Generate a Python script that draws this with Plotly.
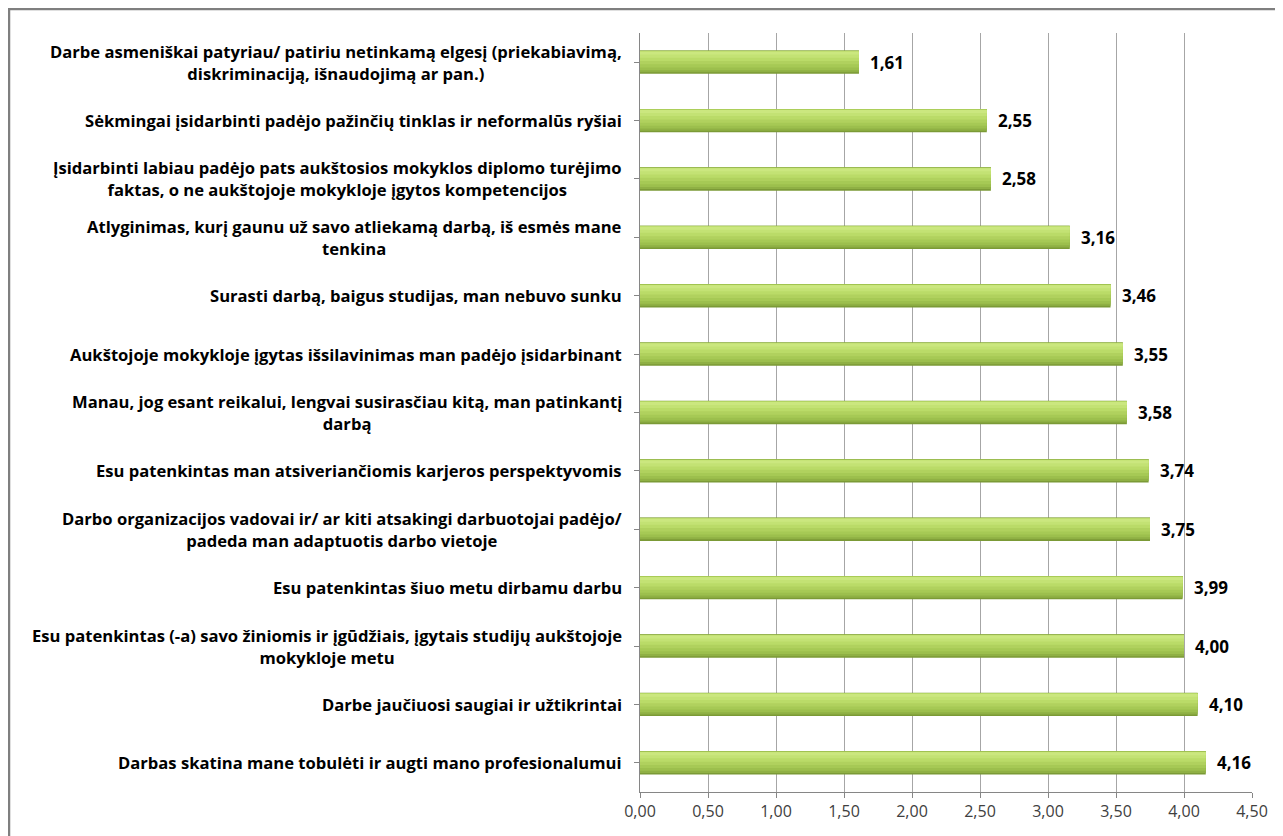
import plotly.graph_objects as go

categories = [
    "Darbe asmeniškai patyriau/ patiriu netinkamą elgesį (priekabiavimą,<br>diskriminaciją, išnaudojimą ar pan.)",
    "Sėkmingai įsidarbinti padėjo pažinčių tinklas ir neformalūs ryšiai",
    "Įsidarbinti labiau padėjo pats aukštosios mokyklos diplomo turėjimo<br>faktas, o ne aukštojoje mokykloje įgytos kompetencijos",
    "Atlyginimas, kurį gaunu už savo atliekamą darbą, iš esmės mane<br>tenkina",
    "Surasti darbą, baigus studijas, man nebuvo sunku",
    "Aukštojoje mokykloje įgytas išsilavinimas man padėjo įsidarbinant",
    "Manau, jog esant reikalui, lengvai susirasčiau kitą, man patinkantį<br>darbą",
    "Esu patenkintas man atsiveriančiomis karjeros perspektyvomis",
    "Darbo organizacijos vadovai ir/ ar kiti atsakingi darbuotojai padėjo/<br>padeda man adaptuotis darbo vietoje",
    "Esu patenkintas šiuo metu dirbamu darbu",
    "Esu patenkintas (-a) savo žiniomis ir įgūdžiais, įgytais studijų aukštojoje<br>mokykloje metu",
    "Darbe jaučiuosi saugiai ir užtikrintai",
    "Darbas skatina mane tobulėti ir augti mano profesionalumui",
]
values = [1.61, 2.55, 2.58, 3.16, 3.46, 3.55, 3.58, 3.74, 3.75, 3.99, 4.00, 4.10, 4.16]
x_ticks = [0, 0.5, 1.0, 1.5, 2.0, 2.5, 3.0, 3.5, 4.0, 4.5]

ids = list(range(len(categories)))
LABEL_FONT = "Open Sans, sans-serif"

fig = go.Figure()
# layered bars to imitate the cylindrical gradient
layers = [
    (-0.200, 0.400, "#7b9a36"),
    (-0.197, 0.370, "#8fb044"),
    (-0.194, 0.330, "#9cbf4d"),
    (-0.191, 0.280, "#a6c955"),
    (-0.188, 0.225, "#b0d15e"),
    (-0.185, 0.165, "#badb68"),
    (-0.182, 0.105, "#c3e274"),
    (-0.180, 0.050, "#cbe77f"),
]
for off, w, col in layers:
    fig.add_trace(go.Bar(
        y=ids, x=values, orientation="h",
        offset=off, width=w,
        marker=dict(color=col, line=dict(width=0)),
        hoverinfo="skip", showlegend=False,
    ))

annotations = []
for i, (cat, v) in enumerate(zip(categories, values)):
    annotations.append(dict(
        x=0, xref="paper", y=i, yref="y", text="<b>" + cat + "</b>",
        xanchor="right", yanchor="middle", align="center", xshift=-16,
        showarrow=False, font=dict(family=LABEL_FONT, size=16.6, color="#000000"),
    ))
    annotations.append(dict(
        x=v, xref="x", y=i, yref="y", text="<b>" + f"{v:.2f}".replace(".", ",") + "</b>",
        xanchor="left", yanchor="middle", xshift=9,
        showarrow=False, font=dict(family=LABEL_FONT, size=17, color="#000000"),
    ))

# page body has an 8px margin; figure occupies page x 8..1283, y 8..836
W, H = 1275, 828
L, R, T, B = 632, 31, 25, 44
pw, ph = W - L - R, H - T - B

fig.update_layout(
    width=W, height=H,
    margin=dict(l=L, r=R, t=T, b=B),
    barmode="overlay",
    paper_bgcolor="white", plot_bgcolor="white",
    separators=", ",
    annotations=annotations,
    xaxis=dict(
        range=[0, 4.5], tickvals=x_ticks, tickformat=".2f",
        showgrid=True, gridcolor="#a6a6a6", gridwidth=1,
        showline=True, linecolor="#868686", linewidth=1,
        ticks="outside", ticklen=5, tickcolor="#868686",
        tickfont=dict(family=LABEL_FONT, size=16, color="#404040"),
        zeroline=False, fixedrange=True,
    ),
    yaxis=dict(
        tickvals=ids, ticktext=[""] * len(ids),
        range=[len(ids) - 0.5, -0.5],
        showgrid=False, showline=True, linecolor="#868686", linewidth=1,
        ticks="outside", ticklen=5, tickcolor="#868686", tickson="boundaries",
        zeroline=False, fixedrange=True,
    ),
    shapes=[dict(
        type="rect", xref="paper", yref="paper",
        x0=(1 - L) / pw, x1=(W - 2 - L) / pw,
        y0=-(B + 10) / ph, y1=1 + (T - 1) / ph,
        line=dict(color="#7f7f7f", width=2.5), fillcolor="rgba(0,0,0,0)",
        layer="below",
    )],
)

fig.write_html("out.html")
